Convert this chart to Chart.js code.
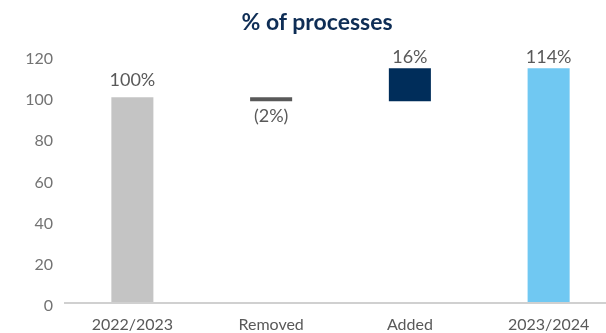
<!DOCTYPE html>
<html>
<head>
<meta charset="utf-8">
<script src="https://cdn.jsdelivr.net/npm/chart.js@4/dist/chart.umd.min.js"></script>
<style>
  html, body { margin: 0; padding: 0; background: #fff; overflow: hidden; }
  #wrap { position: relative; width: 620px; height: 333px; }
  #title {
    position: absolute; top: 7px; left: 217px; width: 200px; text-align: center;
    font: bold 23px Lato, "Open Sans", sans-serif; color: #0e2d55;
  }
  canvas { display: block; }
</style>
</head>
<body>
<div id="wrap">
  <div id="title">% of processes</div>
  <canvas id="chart" width="620" height="333"></canvas>
</div>
<script>
// ===== Data =====
const categories = ["2022/2023", "Removed", "Added", "2023/2024"];
const barStart = [0, 98, 98, 0];
const barEnd = [100, 100, 114, 114];
const valueLabels = ["100%", "(2%)", "16%", "114%"];
const labelBelow = [false, true, false, false];
const barColors = ["#c4c4c4", "#595959", "#002d5a", "#70c8f2"];
const yTicks = [0, 20, 40, 60, 80, 100, 120];

const font = 'Lato, "Open Sans", sans-serif';
// gap between bar edge and its label, px
const labelGap = [8, 6, 2, 2];

// labels above / below each floating bar
const valueLabelPlugin = {
  id: "valueLabels",
  afterDatasetsDraw(chart) {
    const ctx = chart.ctx;
    const meta = chart.getDatasetMeta(0);
    ctx.save();
    ctx.font = "18px " + font;
    ctx.fillStyle = "#595959";
    ctx.textAlign = "center";
    meta.data.forEach((bar, i) => {
      const top = Math.min(bar.y, bar.base);
      const bottom = Math.max(bar.y, bar.base);
      if (labelBelow[i]) {
        ctx.textBaseline = "top";
        ctx.fillText(valueLabels[i], bar.x, bottom + labelGap[i]);
      } else {
        ctx.textBaseline = "bottom";
        ctx.fillText(valueLabels[i], bar.x, top - labelGap[i]);
      }
    });
    ctx.restore();
  }
};

// zero line across the plot
const baselinePlugin = {
  id: "baseline",
  afterDatasetsDraw(chart) {
    const ctx = chart.ctx;
    const y = chart.scales.y.getPixelForValue(0);
    ctx.save();
    ctx.strokeStyle = "#d0d0d0";
    ctx.lineWidth = 2;
    ctx.beginPath();
    ctx.moveTo(chart.chartArea.left + 1, y);
    ctx.lineTo(chart.width, y);
    ctx.stroke();
    ctx.restore();
  }
};

new Chart(document.getElementById("chart"), {
  type: "bar",
  data: {
    labels: categories,
    datasets: [{
      data: categories.map((c, i) => [barStart[i], barEnd[i]]),
      backgroundColor: barColors,
      borderWidth: 0,
      barPercentage: 0.303,
      categoryPercentage: 1
    }]
  },
  options: {
    responsive: false,
    animation: false,
    layout: { padding: { top: 56, left: 0, right: 2, bottom: 0 } },
    plugins: { legend: { display: false }, tooltip: { enabled: false } },
    scales: {
      x: {
        grid: { display: false, drawTicks: false },
        border: { display: false },
        ticks: { color: "#595959", font: { family: font, size: 16 }, padding: 12 },
        afterFit(scale) { scale.height = 30; }
      },
      y: {
        min: 0,
        max: 120,
        afterBuildTicks(scale) { scale.ticks = yTicks.map(v => ({ value: v })); },
        grid: { display: false, drawTicks: false },
        border: { display: false },
        ticks: { color: "#737373", font: { family: font, size: 16 }, padding: 10, labelOffset: 3 },
        afterFit(scale) { scale.width = 63; }
      }
    }
  },
  plugins: [valueLabelPlugin, baselinePlugin]
});
</script>
</body>
</html>
